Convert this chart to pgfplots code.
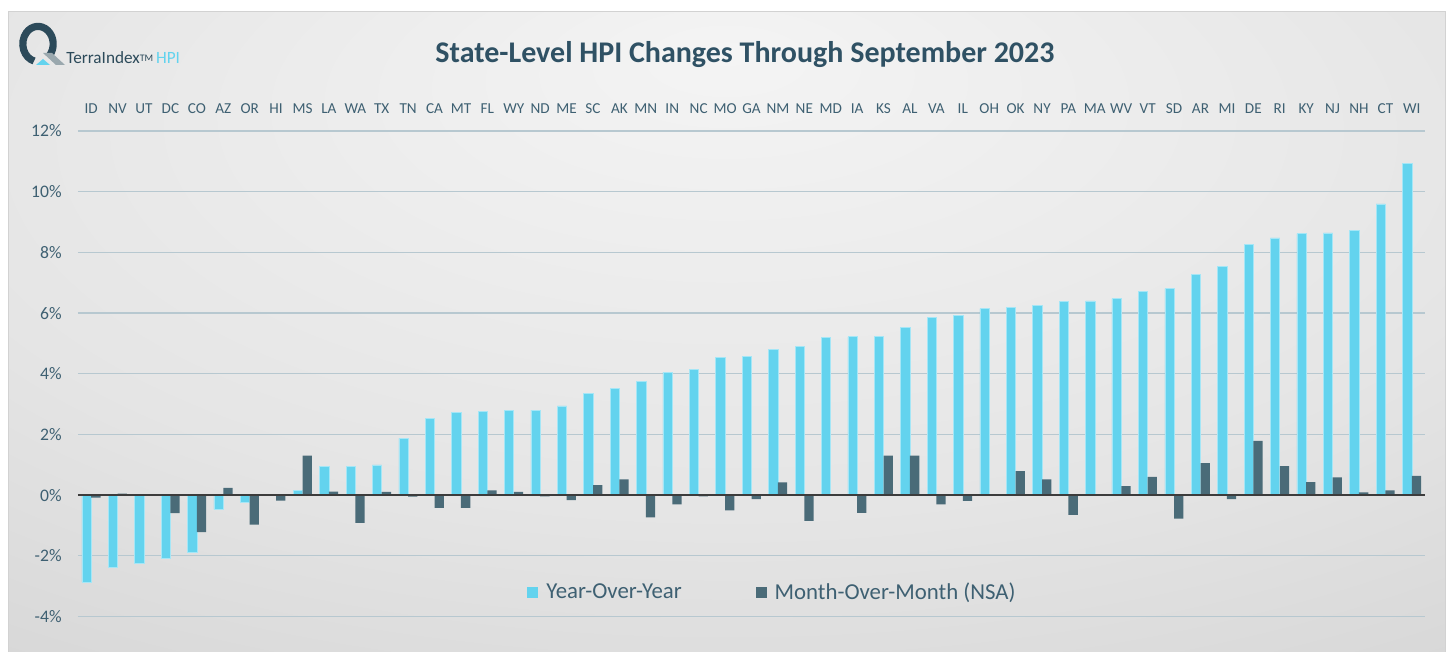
\documentclass[border=0pt]{standalone}
\usepackage{pgfplots}
\pgfplotsset{compat=1.18}
\usepackage{pgfplotstable}
\usepackage{fontspec}
\setmainfont{Carlito}
\definecolor{yoy}{HTML}{63D3EE}
\definecolor{yoyedge}{HTML}{A5E6F6}
\definecolor{mom}{HTML}{4A6B78}
\definecolor{labc}{HTML}{3E6072}
\definecolor{titc}{HTML}{2F5164}
\definecolor{gridc}{HTML}{B7C8D0}
\definecolor{zeroc}{HTML}{3C3C3C}
\definecolor{qdark}{HTML}{2C4A5A}
\definecolor{qgray}{HTML}{9AA8AE}
\definecolor{pc1}{HTML}{F4F4F4}
\definecolor{pc2}{HTML}{E5E5E5}
\definecolor{pc3}{HTML}{D0D0D0}
\definecolor{pc4}{HTML}{C4C4C4}
\pgfdeclareradialshading{panel}{\pgfpoint{0bp}{22bp}}{color(0bp)=(pc1); color(28bp)=(pc2); color(52bp)=(pc3); color(75bp)=(pc4)}

\pgfplotstableread{
i st yoy mom
0 ID -2.86 -0.08
1 NV -2.37 0.05
2 UT -2.26 -0.02
3 DC -2.09 -0.59
4 CO -1.87 -1.22
5 AZ -0.47 0.24
6 OR -0.22 -0.97
7 HI 0.02 -0.18
8 MS 0.16 1.30
9 LA 0.96 0.12
10 WA 0.96 -0.91
11 TX 1.00 0.11
12 TN 1.87 -0.05
13 CA 2.54 -0.42
14 MT 2.72 -0.42
15 FL 2.77 0.16
16 WY 2.80 0.11
17 ND 2.80 -0.04
18 ME 2.94 -0.16
19 SC 3.35 0.33
20 AK 3.52 0.52
21 MN 3.75 -0.73
22 IN 4.05 -0.30
23 NC 4.15 -0.04
24 MO 4.55 -0.50
25 GA 4.57 -0.13
26 NM 4.81 0.42
27 NE 4.91 -0.85
28 MD 5.20 -0.01
29 IA 5.22 -0.58
30 KS 5.23 1.30
31 AL 5.53 1.30
32 VA 5.86 -0.30
33 IL 5.93 -0.19
34 OH 6.15 -0.01
35 OK 6.19 0.79
36 NY 6.26 0.52
37 PA 6.38 -0.65
38 MA 6.40 -0.02
39 WV 6.48 0.30
40 VT 6.72 0.60
41 SD 6.81 -0.77
42 AR 7.27 1.06
43 MI 7.55 -0.13
44 DE 8.26 1.79
45 RI 8.48 0.96
46 KY 8.62 0.43
47 NJ 8.64 0.59
48 NH 8.72 0.09
49 CT 9.60 0.16
50 WI 10.92 0.64
}\hpidata

\begin{document}
\begin{tikzpicture}[x=1pt,y=1pt]
\fill[white] (0,0) rectangle (725,326);
\shade[shading=panel] (4,0) rectangle (722.5,320);
\draw[gray!35, line width=0.5pt] (4,0) -- (4,320) -- (722.5,320) -- (722.5,0);
% logo
\draw[qdark, line width=3.6pt] (19,304) ++(-40:7.6 and 8.8) arc[start angle=-40, end angle=255, x radius=7.6, y radius=8.8];
\fill[qgray] (21.5,299.5) -- (26,299.5) -- (32.5,293.5) -- (28,293.5) -- cycle;
\fill[yoy] (18,293.5) -- (21.5,296.5) -- (25,293.5) -- cycle;
\node[anchor=base west, inner sep=0pt, font=\fontsize{8.6}{9}\selectfont, text=qdark] at (33,294) {TerraIndex\raisebox{0.15em}{\fontsize{5}{5}\selectfont TM}\,\textcolor{yoy}{HPI}};
% title
\node[anchor=base, inner sep=0pt, font=\fontsize{15}{17}\selectfont\bfseries, text=titc] at (372.5,294.5) {State-Level HPI Changes Through September 2023};
\begin{axis}[
  at={(39pt,260.5pt)}, anchor=north west,
  scale only axis, width=673.5pt, height=260.25pt,
  xmin=-0.5, xmax=50.5, ymin=-5.15, ymax=12,
  ybar=0pt, bar width=4.65pt,
  axis line style={draw=none}, major tick length=0pt,
  xtick style={draw=none}, ytick style={draw=none},
  xtick={0,...,50},
  xticklabels={ID,NV,UT,DC,CO,AZ,OR,HI,MS,LA,WA,TX,TN,CA,MT,FL,WY,ND,ME,SC,AK,MN,IN,NC,MO,GA,NM,NE,MD,IA,KS,AL,VA,IL,OH,OK,NY,PA,MA,WV,VT,SD,AR,MI,DE,RI,KY,NJ,NH,CT,WI},
  xticklabel pos=upper,
  xticklabel style={font=\fontsize{7.6}{8}\selectfont, text=labc, anchor=base, inner sep=0pt, yshift=8.5pt},
  ytick={-4,-2,...,12},
  yticklabels={-4\%,-2\%,0\%,2\%,4\%,6\%,8\%,10\%,12\%},
  yticklabel style={font=\fontsize{8.8}{10}\selectfont, text=labc, anchor=east, inner sep=0pt, xshift=-8pt},
  ymajorgrids, grid style={gridc, line width=0.6pt},
  legend style={at={(0.3333,0.1124)}, anchor=west, draw=none, fill=none, inner sep=0pt,
    legend columns=2, font=\fontsize{11.4}{13}\selectfont, text=labc,
    /tikz/every even column/.append style={column sep=35pt}},
  legend image code/.code={\fill[#1,draw=none] (0pt,-2.75pt) rectangle (5.5pt,2.75pt);},
]
\addplot[fill=yoy, draw=yoyedge, line width=0.3pt] table[x=i,y=yoy] {\hpidata};
\addlegendentry{\hspace{2pt}Year-Over-Year}
\addplot[fill=mom, draw=none] table[x=i,y=mom] {\hpidata};
\addlegendentry{\hspace{2pt}Month-Over-Month (NSA)}
\draw[zeroc, line width=1pt] (axis cs:-0.5,0) -- (axis cs:50.5,0);
\end{axis}
\end{tikzpicture}
\end{document}
